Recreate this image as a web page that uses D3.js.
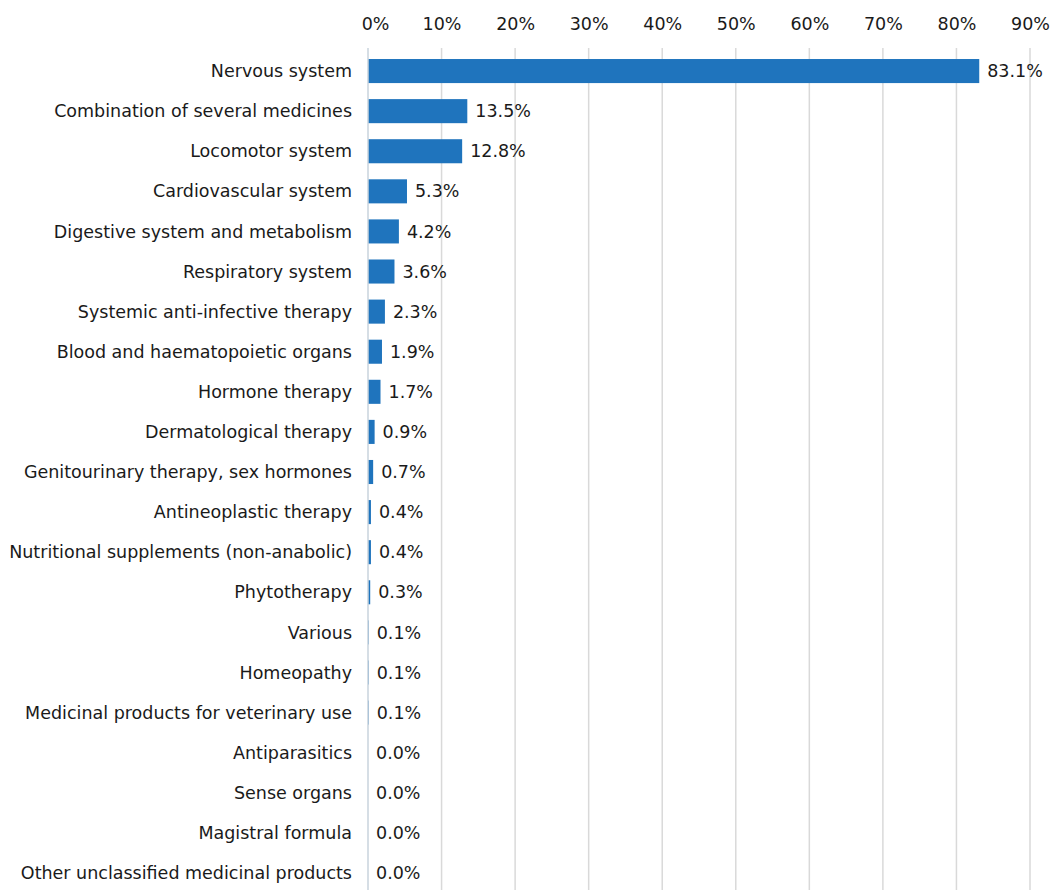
<!DOCTYPE html>
<html>
<head>
<meta charset="utf-8">
<script src="https://cdn.jsdelivr.net/npm/d3@7"></script>
<style>
  html, body { margin: 0; padding: 0; background: #fff; }
  svg text { font-family: "DejaVu Sans", "Liberation Sans", Arial, sans-serif; fill: #1a1a1a; }
</style>
</head>
<body>
<svg id="chart" width="1052" height="890"></svg>
<script>
// Share of cases by therapeutic group (%)
const categories = [
  "Nervous system",
  "Combination of several medicines",
  "Locomotor system",
  "Cardiovascular system",
  "Digestive system and metabolism",
  "Respiratory system",
  "Systemic anti-infective therapy",
  "Blood and haematopoietic organs",
  "Hormone therapy",
  "Dermatological therapy",
  "Genitourinary therapy, sex hormones",
  "Antineoplastic therapy",
  "Nutritional supplements (non-anabolic)",
  "Phytotherapy",
  "Various",
  "Homeopathy",
  "Medicinal products for veterinary use",
  "Antiparasitics",
  "Sense organs",
  "Magistral formula",
  "Other unclassified medicinal products"
];
const values = [83.1, 13.5, 12.8, 5.3, 4.2, 3.6, 2.3, 1.9, 1.7, 0.9, 0.7, 0.4, 0.4, 0.3, 0.1, 0.1, 0.1, 0.0, 0.0, 0.0, 0.0];
const tickValues = [0, 10, 20, 30, 40, 50, 60, 70, 80, 90];

const svg = d3.select("#chart");
const margin = { left: 368, right: 22, top: 51, bottom: -3 };
const width = 1052, height = 890;
const fontSize = 17.5;

const x = d3.scaleLinear().domain([0, 90]).range([margin.left, width - margin.right]);
const y = d3.scaleBand().domain(categories).range([margin.top, height - margin.bottom]).paddingInner(0.4).paddingOuter(0.2);

// vertical gridlines
svg.append("g").selectAll("line").data(tickValues.slice(1)).join("line")
  .attr("x1", d => x(d)).attr("x2", d => x(d))
  .attr("y1", 48).attr("y2", height)
  .attr("stroke", "#d9d9d9").attr("stroke-width", 1.5);

// top axis tick labels
const axis = d3.axisTop(x).tickValues(tickValues).tickFormat(d => d + "%").tickSize(0).tickPadding(0);
const gAxis = svg.append("g").attr("transform", "translate(0,30)").call(axis);
gAxis.select(".domain").remove();
gAxis.selectAll("text")
  .attr("font-size", fontSize)
  .attr("font-family", "DejaVu Sans, Liberation Sans, Arial, sans-serif")
  .attr("fill", "#1a1a1a")
  .attr("dx", d => d === 0 ? 7 : 0);

// bars
svg.append("g").selectAll("rect").data(values).join("rect")
  .attr("x", x(0))
  .attr("y", (d, i) => y(categories[i]))
  .attr("width", d => x(d) - x(0))
  .attr("height", y.bandwidth())
  .attr("fill", "#1f74bd");

// category axis line
svg.append("line")
  .attr("x1", x(0)).attr("x2", x(0))
  .attr("y1", 48).attr("y2", height)
  .attr("stroke", "#c9d3dc").attr("stroke-width", 1.5);

// category labels
svg.append("g").selectAll("text").data(categories).join("text")
  .attr("x", x(0) - 16)
  .attr("y", d => y(d) + y.bandwidth() / 2)
  .attr("dy", "0.35em")
  .attr("text-anchor", "end")
  .attr("font-size", fontSize)
  .text(d => d);

// value labels
svg.append("g").selectAll("text").data(values).join("text")
  .attr("x", d => x(d) + 8)
  .attr("y", (d, i) => y(categories[i]) + y.bandwidth() / 2)
  .attr("dy", "0.35em")
  .attr("font-size", fontSize)
  .text(d => d.toFixed(1) + "%");
</script>
</body>
</html>
